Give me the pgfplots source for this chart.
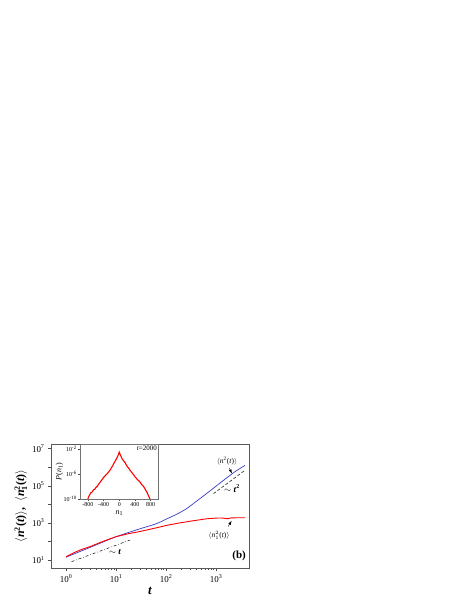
\documentclass[border=0pt]{standalone}
\usepackage{fontspec}
\setmainfont{Liberation Serif}
\usepackage{pgfplots}
\pgfplotsset{compat=1.18}
\definecolor{myblue}{rgb}{0.22,0.22,0.78}
\newcommand{\nsq}{\textit{n}\textsuperscript{2}}
\newcommand{\nonesq}{\textit{n}$^2_1$}
\newcommand{\nonesqb}{\textit{n}$^{\mathbf{2}}_{\mathbf{1}}$}
\begin{document}
\begin{tikzpicture}[x=1bp,y=1bp]
\useasboundingbox (0,0) rectangle (469,607);
\begin{axis}[at={(51bp,39bp)}, anchor=south west, scale only axis,
  width=198bp, height=124bp,
  xmode=log, ymode=log, xmin=0.5, xmax=4570, ymin=3.7, ymax=1.8e7,
  xtick={1,10,100,1000},
  xticklabels={10\textsuperscript{0},10\textsuperscript{1},10\textsuperscript{2},10\textsuperscript{3}},
  ytick={10,100,1000,1e4,1e5,1e6,1e7},
  yticklabels={10\textsuperscript{1},,10\textsuperscript{3},,10\textsuperscript{5},,10\textsuperscript{7}},
  yminorticks=false,
  xtick pos=bottom, ytick pos=left, tick align=outside,
  major tick length=3bp, minor tick length=2bp,
  axis line style={black!65, line width=0.6pt}, tick style={black!70, line width=0.5pt},
  ticklabel style={font=\fontsize{9}{9}\selectfont},
  xlabel={\fontsize{13}{13}\selectfont\bfseries\itshape t},
  xlabel style={yshift=2bp},
  ylabel={\fontsize{12}{12}\selectfont\bfseries $\langle$\nsq(\textit{t})$\rangle$,\ \ $\langle$\nonesqb(\textit{t})$\rangle$},
  ylabel style={yshift=-2bp},
  clip=true]
% <n^2(t)>
\addplot[myblue, line width=0.7pt, smooth] coordinates {
(1,14.1) (3.16,50.1) (10,178) (31.6,501) (63.1,891) (100,1585) (158.5,2818)
(251.2,5623) (398.1,14125) (631,36308) (1000,95499) (1585,251189) (2512,630957) (3802,1258925)};
% <n_1^2(t)>
\addplot[red, line width=0.9pt] coordinates {
(1,15.1) (1.5,26) (2,36) (3.16,55) (5,92) (7,128) (10,182) (13,215) (17.8,263) (24,305) (31.6,355)
(42,420) (56.2,501) (75,600) (100,724) (133,840) (177.8,977) (237,1100) (316,1259)
(420,1400) (562,1585) (700,1700) (850,1760) (1000,1820) (1200,1850) (1413,1810) (1500,1760)
(1585,1720) (1700,1690) (1778,1700) (1900,1800) (2000,1862) (2400,1880) (2818,1905) (3300,1890) (3802,1905)};
% ~ t guide
\addplot[black, line width=0.5pt, dash dot] coordinates {(1.29,8.13) (19.05,120)};
% ~ t^2 guide
\addplot[black, line width=0.5pt, densely dashed] coordinates {(891,38019) (3631,630957)};
\node[font=\fontsize{9}{9}\selectfont\bfseries] at (axis cs:9.5,28) {$\sim$ \textit{t}};
\node[font=\fontsize{9}{9}\selectfont\bfseries] at (axis cs:2090,70000) {$\sim$ \textit{t}\textsuperscript{2}};
\node[font=\fontsize{7.5}{7.5}\selectfont] at (axis cs:1660,2.1e6) {$\langle$\nsq(\textit{t})$\rangle$};
\draw[-latex, line width=0.4pt] (axis cs:1820,9.3e5) -- (axis cs:2090,4.7e5);
\node[font=\fontsize{7.5}{7.5}\selectfont] at (axis cs:1150,220) {$\langle$\nonesq(\textit{t})$\rangle$};
\draw[-latex, line width=0.4pt] (axis cs:1750,640) -- (axis cs:2050,1300);
\node[font=\fontsize{11}{11}\selectfont\bfseries, anchor=south east, inner sep=1bp] at (rel axis cs:0.99,0.05) {(b)};
\end{axis}
% inset
\begin{axis}[at={(80bp,108bp)}, anchor=south west, scale only axis,
  width=78.5bp, height=55bp,
  xmin=-1000, xmax=1000, ymin=-10, ymax=-1.2,
  xtick={-800,-400,0,400,800},
  xticklabels={-800,-400,0,400,800},
  ytick={-10,-6,-2},
  yticklabels={10\textsuperscript{-10},10\textsuperscript{-6},10\textsuperscript{-2}},
  xtick pos=bottom, ytick pos=left, tick align=outside,
  major tick length=2bp,
  axis background/.style={fill=white},
  axis line style={black!55, line width=0.5pt}, tick style={black!70, line width=0.4pt},
  ticklabel style={font=\fontsize{6}{6}\selectfont, inner sep=1bp},
  xlabel={\fontsize{8}{8}\selectfont\textit{n}\textsubscript{1}},
  xlabel style={yshift=0bp},
  ylabel={\fontsize{8}{8}\selectfont\textit{P}(\textit{n}\textsubscript{1})},
  ylabel style={yshift=-4bp},
  clip=true]
\addplot[red, line width=1.1pt] coordinates {
(-830,-10.8) (-800,-10.0) (-775,-9.6) (-750,-9.3) (-725,-9.0) (-700,-8.95) (-675,-8.7) (-650,-8.5)
(-625,-8.45) (-600,-8.2) (-575,-8.05) (-550,-7.9) (-525,-7.6) (-500,-7.45) (-475,-7.2) (-450,-7.0)
(-425,-6.8) (-400,-6.55) (-375,-6.4) (-350,-6.2) (-325,-6.05) (-300,-5.9) (-275,-5.7) (-250,-5.5)
(-225,-5.3) (-200,-5.0) (-175,-4.75) (-150,-4.45) (-125,-4.15) (-100,-3.9) (-75,-3.6) (-50,-3.3)
(-25,-2.95) (0,-2.5) (25,-2.9) (50,-3.25) (75,-3.6) (100,-3.8) (125,-4.0) (150,-4.2) (175,-4.5)
(200,-4.75) (225,-4.95) (250,-5.15) (275,-5.4) (300,-5.6) (325,-5.8) (350,-6.0) (375,-6.2)
(400,-6.45) (425,-6.6) (450,-6.8) (475,-6.95) (500,-7.1) (525,-7.25) (550,-7.5) (575,-7.7)
(600,-7.85) (625,-8.05) (650,-8.3) (675,-8.6) (700,-8.85) (725,-9.2) (750,-9.55) (775,-9.9)
(800,-10.3) (830,-10.9)};
\node[font=\fontsize{7}{7}\selectfont, anchor=north east, inner sep=1.5bp] at (rel axis cs:1,1) {\textit{t}=2000};
\end{axis}
\end{tikzpicture}
\end{document}
